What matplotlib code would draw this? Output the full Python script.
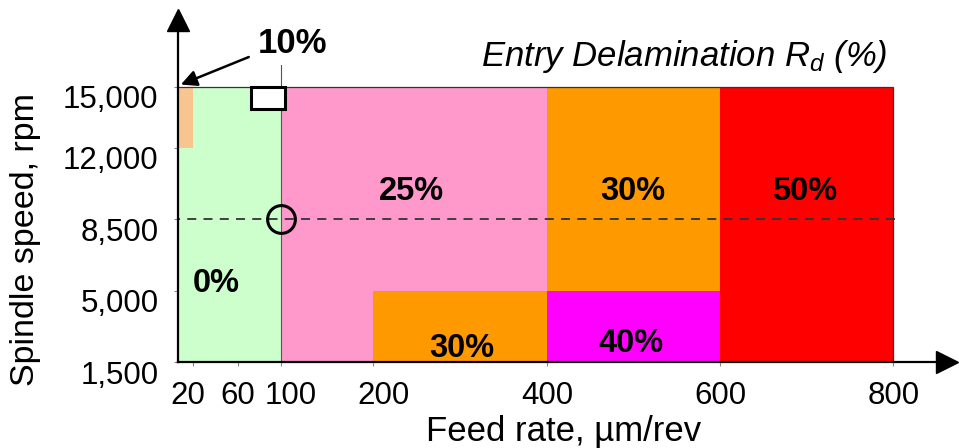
import numpy as np
import matplotlib
matplotlib.use("Agg")
import matplotlib.pyplot as plt
from matplotlib.transforms import ScaledTranslation
from matplotlib.patches import Rectangle

plt.rcParams['font.family'] = ['Liberation Sans', 'DejaVu Sans']
plt.rcParams['mathtext.fontset'] = 'custom'
plt.rcParams['mathtext.rm'] = 'Liberation Sans'
plt.rcParams['mathtext.it'] = 'Liberation Sans:italic'

# axis ticks
feed_ticks = [20, 60, 100, 200, 400, 600, 800]
speed_ticks = [1500, 5000, 8500, 12000, 15000]
speed_labels = ['1,500', '5,000', '8,500', '12,000', '15,000']

# delamination zones: feed range, speed range, value, colour
zone_f0 = [0, 0, 100, 400, 200, 400, 600]
zone_f1 = [100, 20, 400, 600, 400, 600, 800]
zone_s0 = [1500, 12000, 1500, 5000, 1500, 1500, 1500]
zone_s1 = [15000, 15000, 15000, 15000, 5000, 5000, 15000]
zone_val = [0, 10, 25, 30, 30, 40, 50]
zone_col = ['#ccffcc', '#f8c490', '#ff99cc', '#ff9900', '#ff9900', '#ff00ff', '#ff0000']

# label anchors for the zone values (10% is annotated separately)
lab_val = [0, 25, 30, 50, 30, 40]
lab_feed = [41, 244, 499, 698, 302, 497]
lab_speed = [4930, 9440, 9440, 9440, 1745, 1990]

# the feed axis is stretched unevenly below 200 um/rev
knot_feed = np.array([0, 20, 60, 100, 200, 400, 600, 800, 1000])
knot_pos = np.array([171, 193, 238, 281, 373, 547, 720, 893, 1066])


def fwd(v):
    return np.interp(v, knot_feed, knot_pos)


def inv(p):
    return np.interp(p, knot_pos, knot_feed)


fig = plt.figure(figsize=(9.59, 4.48), dpi=100)
ax = fig.add_axes([178 / 959, 1 - 362 / 448, 769 / 959, 342 / 448])
ax.set_xscale('function', functions=(fwd, inv))
ax.set_xlim(6.4, 862)
ax.set_ylim(1500, 18265)

ax.bar(zone_f0, np.subtract(zone_s1, zone_s0), width=np.subtract(zone_f1, zone_f0),
       bottom=zone_s0, align='edge', color=zone_col, linewidth=0, zorder=1)
ax.add_patch(Rectangle((0, 1500), 800, 13500, fill=False, ec='#333333', lw=0.9, zorder=3))
ax.plot([100, 100], [1500, 16060], color='#555555', lw=0.8, zorder=3)
ax.plot([0, 810], [8500, 8500], ls=(0, (5, 4)), color='#333333', lw=1.3, zorder=3)

for v, f, s in zip(lab_val, lab_feed, lab_speed):
    ax.text(f, s, f'{v}%', ha='center', va='baseline', fontsize=23.5,
            fontweight='bold', zorder=4)

# 10% corner zone callout
ax.text(112, 16650, '10%', ha='center', va='baseline', fontsize=25,
        fontweight='bold', zorder=4, clip_on=False)
ax.annotate('', xy=(9, 15100), xytext=(70, 16450),
            arrowprops=dict(arrowstyle='-|>', color='black', lw=1.8,
                            mutation_scale=24, shrinkA=0, shrinkB=0),
            zorder=5, annotation_clip=False)
ax.add_patch(Rectangle((72, 13900), 32, 1100, fc='white', ec='black', lw=2.2, zorder=4))
ax.plot([100], [8500], 'o', mfc='none', mec='black', mew=2.2, ms=20, zorder=5)

for side in ['top', 'right']:
    ax.spines[side].set_visible(False)
for side in ['left', 'bottom']:
    ax.spines[side].set_linewidth(1.6)
    ax.spines[side].set_zorder(6)
ax.plot(1, 0, '>', color='black', ms=16, transform=ax.transAxes, clip_on=False, zorder=7)
ax.plot(0, 1, '^', color='black', ms=16, transform=ax.transAxes, clip_on=False, zorder=7)

ax.set_xticks(feed_ticks)
ax.set_xticklabels([str(t) for t in feed_ticks])
ax.set_yticks(speed_ticks)
ax.set_yticklabels(speed_labels)
ax.tick_params(axis='both', length=3, width=0.8, color='#888888', labelsize=22.5)
ax.tick_params(axis='x', pad=11)
ax.tick_params(axis='y', pad=11)
for lbl in ax.get_yticklabels():
    lbl.set_transform(lbl.get_transform() + ScaledTranslation(0, -0.10, fig.dpi_scale_trans))
for lbl, t in zip(ax.get_xticklabels(), feed_ticks):
    if t in (100, 200):
        lbl.set_transform(lbl.get_transform() + ScaledTranslation(0.10, 0, fig.dpi_scale_trans))
    elif t == 20:
        lbl.set_transform(lbl.get_transform() + ScaledTranslation(-0.05, 0, fig.dpi_scale_trans))

fig.text(26 / 959, 1 - 240 / 448, 'Spindle speed, rpm', rotation=90, ha='center',
         va='center', fontsize=24.5)
fig.text(564 / 959, 1 - 441 / 448, 'Feed rate, \u00b5m/rev', ha='center',
         va='baseline', fontsize=25)
fig.text(684 / 959, 1 - 66 / 448, r'Entry Delamination $R_d$ (%)', ha='center',
         va='baseline', fontsize=25, style='italic')

fig.savefig('out.png', dpi=100)
